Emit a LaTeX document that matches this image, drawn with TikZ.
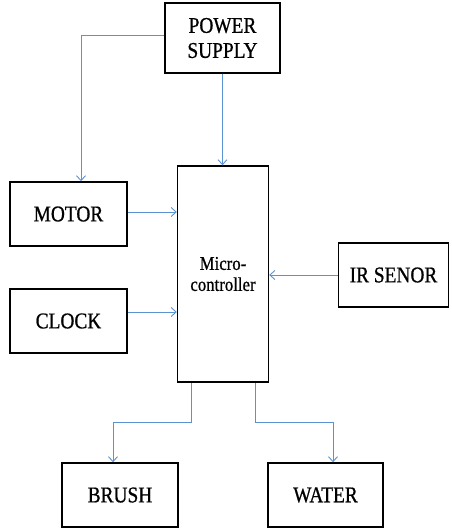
\documentclass[tikz,border=0pt]{standalone}
\usepackage{fontspec}
\setmainfont{Liberation Serif}
\newfontfamily\blockfont[FakeStretch=0.86,FakeBold=0.8]{Liberation Serif}
\usetikzlibrary{arrows.meta,positioning,calc}

\definecolor{linkblue}{RGB}{91,146,210}
\tikzset{
  block/.style={draw, line width=1.4pt, fill=white, align=center,
    font=\blockfont\fontsize{22.5}{25}\selectfont, inner sep=2pt},
  link/.style={linkblue, line width=0.9pt, -{Straight Barb[length=5pt,width=9pt]}}
}

\begin{document}
\begin{tikzpicture}[x=1pt, y=-1pt]
\useasboundingbox (0,0) rectangle (451,528);
% Blocks
\node[block, minimum width=115pt, minimum height=70pt] (power) at (222.5,38) {POWER\\SUPPLY};
\node[block, minimum width=91pt, minimum height=216pt, font=\blockfont\fontsize{19.5}{21}\selectfont] (micro) at (223,274) {Micro-\\controller};
\node[block, minimum width=117pt, minimum height=64pt] (motor) at (68.5,214) {MOTOR};
\node[block, minimum width=117pt, minimum height=64pt] (clock) at (68.5,321) {CLOCK};
\node[block, minimum width=110pt, minimum height=64pt] (ir) at (393.5,275) {IR SENOR};
\node[block, minimum width=116pt, minimum height=64pt] (brush) at (120,495) {BRUSH};
\node[block, minimum width=115pt, minimum height=64pt] (water) at (325.5,495) {WATER};
% Connectors
\draw[link] ([yshift=3pt]power.west) -| ([xshift=12.5pt]motor.north);
\draw[link] (power.south) -- (power.south |- micro.north);
\draw[link] ([yshift=2pt]motor.east) -- ([yshift=2pt]motor.east -| micro.west);
\draw[link] ([yshift=9pt]clock.east) -- ([yshift=9pt]clock.east -| micro.west);
\draw[link] (ir.west) -- (ir.west -| micro.east);
\coordinate (split) at (0,422);
\draw[link] ([xshift=-32pt]micro.south) -- ([xshift=-32pt]micro.south |- split) -| ([xshift=-7pt]brush.north);
\draw[link] ([xshift=32pt]micro.south) -- ([xshift=32pt]micro.south |- split) -| ([xshift=7.5pt]water.north);
\end{tikzpicture}
\end{document}
